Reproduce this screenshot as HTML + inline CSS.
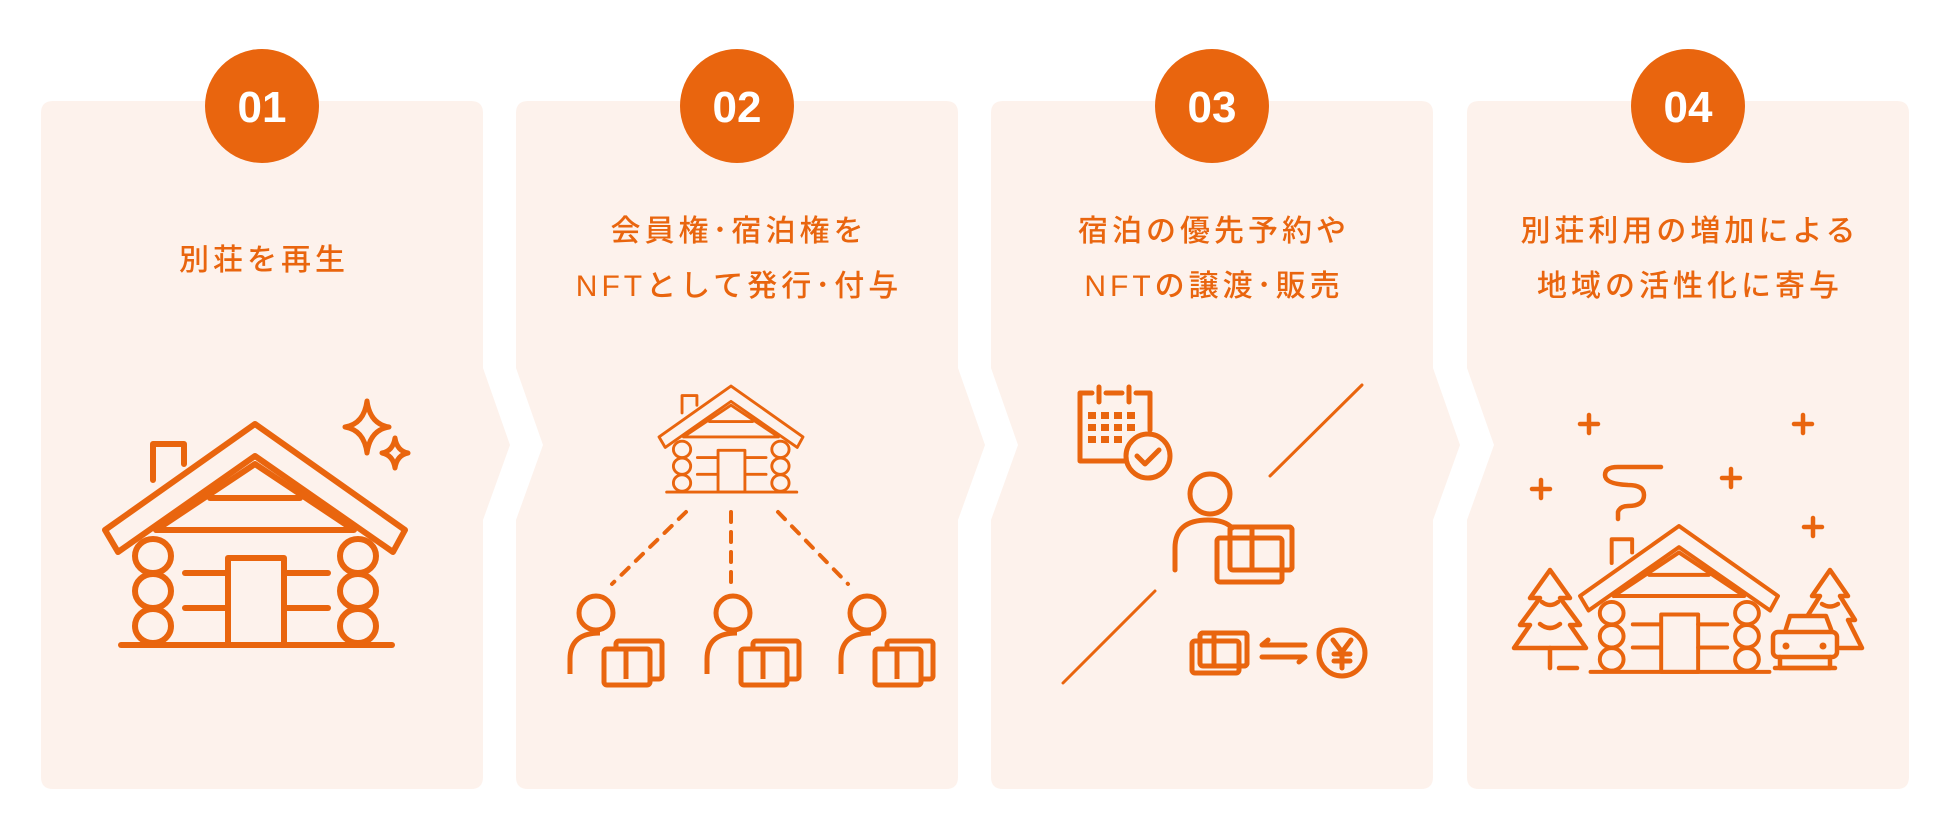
<!DOCTYPE html>
<html><head><meta charset="utf-8"><style>
html,body{margin:0;padding:0;background:#fff;}
svg{display:block;}
text{font-family:"Liberation Sans","Noto Sans CJK JP",sans-serif;}
</style></head><body>
<svg width="1950" height="836" viewBox="0 0 1950 836" xmlns="http://www.w3.org/2000/svg">
<defs>
<g id="house" fill="none" stroke="#E9650E" stroke-width="6" stroke-linejoin="round" stroke-linecap="round">
  <polygon points="105,530 255,424 405,530 393,552 255,456 118,552"/>
  <polyline points="156,530 255,464 354,530 156,530"/>
  <line x1="210" y1="498" x2="300" y2="498"/>
  <polyline points="153,480 153,444 184,444 184,464"/>
  <ellipse cx="153" cy="556" rx="18" ry="17"/>
  <ellipse cx="153" cy="591" rx="18" ry="17"/>
  <ellipse cx="153" cy="626" rx="18" ry="17"/>
  <ellipse cx="358" cy="556" rx="18" ry="17"/>
  <ellipse cx="358" cy="591" rx="18" ry="17"/>
  <ellipse cx="358" cy="626" rx="18" ry="17"/>
  <line x1="185" y1="573" x2="226" y2="573"/><line x1="185" y1="608" x2="226" y2="608"/>
  <line x1="284" y1="573" x2="328" y2="573"/><line x1="284" y1="608" x2="328" y2="608"/>
  <rect x="228" y="558" width="56" height="87"/>
  <line x1="121" y1="645" x2="392" y2="645"/>
</g>
<g id="person" fill="none" stroke="#E9650E" stroke-width="5" stroke-linejoin="round">
  <circle cx="0" cy="0" r="17"/>
  <path d="M-26,61 V46 Q-26,20 4,20"/>
  <rect x="20" y="28" width="46" height="38" rx="3"/>
  <rect x="8" y="36" width="46" height="36" rx="3" fill="#FDF2EC"/>
  <line x1="30" y1="36" x2="30" y2="66"/>
</g>
</defs>
<g fill="#FDF2EC">
<path d="M53,101 H471 Q483,101 483,113 V368 L510,445 L483,520 V777 Q483,789 471,789 H53 Q41,789 41,777 V113 Q41,101 53,101 Z"/>
<path d="M528,101 H946 Q958,101 958,113 V368 L985,445 L958,520 V777 Q958,789 946,789 H528 Q516,789 516,777 V520 L543,445 L516,368 V113 Q516,101 528,101 Z"/>
<path d="M1003,101 H1421 Q1433,101 1433,113 V368 L1460,445 L1433,520 V777 Q1433,789 1421,789 H1003 Q991,789 991,777 V520 L1018,445 L991,368 V113 Q991,101 1003,101 Z"/>
<path d="M1479,101 H1897 Q1909,101 1909,113 V777 Q1909,789 1897,789 H1479 Q1467,789 1467,777 V520 L1494,445 L1467,368 V113 Q1467,101 1479,101 Z"/>
</g>
<g fill="#E9650E">
<circle cx="262" cy="106" r="57"/><circle cx="737" cy="106" r="57"/>
<circle cx="1212" cy="106" r="57"/><circle cx="1688" cy="106" r="57"/>
</g>
<g fill="#fff" font-size="44" font-weight="bold" text-anchor="middle">
<text x="262" y="122">01</text><text x="737" y="122">02</text>
<text x="1212" y="122">03</text><text x="1688" y="122">04</text>
</g>
<g fill="#E9650E" font-size="30" font-weight="500" text-anchor="middle" letter-spacing="4">
<text x="264" y="270">別荘を再生</text>
<text x="739" y="241">会員権･宿泊権を</text>
<text x="739" y="296">NFTとして発行･付与</text>
<text x="1214" y="241">宿泊の優先予約や</text>
<text x="1214" y="296">NFTの譲渡･販売</text>
<text x="1690" y="241">別荘利用の増加による</text>
<text x="1690" y="296">地域の活性化に寄与</text>
</g>
<!-- card1 -->
<use href="#house"/>
<g fill="none" stroke="#E9650E" stroke-width="5" stroke-linejoin="round">
<path d="M367,401 Q370,424 389,427 Q370,430 367,453 Q364,430 345,427 Q364,424 367,401 Z"/>
<path d="M395,438 Q397,451 408,453 Q397,455 395,468 Q393,455 382,453 Q393,451 395,438 Z"/>
</g>
<!-- card2 -->
<g transform="translate(608.6,182.5) scale(0.48)"><use href="#house"/></g>
<g stroke="#E9650E" stroke-width="4" stroke-dasharray="10,10" fill="none" stroke-linecap="round">
<line x1="686" y1="512" x2="612" y2="584"/>
<line x1="731" y1="512" x2="731" y2="584"/>
<line x1="778" y1="512" x2="848" y2="584"/>
</g>
<use href="#person" transform="translate(596,613)"/>
<use href="#person" transform="translate(733,613)"/>
<use href="#person" transform="translate(867,613)"/>
<!-- card3 -->
<g fill="none" stroke="#E9650E" stroke-width="5" stroke-linejoin="round" stroke-linecap="round">
<path d="M1092,393 H1080 V461 H1140"/><path d="M1106,393 H1122"/><path d="M1136,393 H1150 V430"/>
<line x1="1099" y1="387" x2="1099" y2="402"/><line x1="1129" y1="387" x2="1129" y2="402"/>
<circle cx="1148" cy="456" r="22" fill="#FDF2EC"/>
<polyline points="1137,456 1145,464 1159,450"/>
<line x1="1362" y1="385" x2="1270" y2="476" stroke-width="3"/>
<line x1="1155" y1="591" x2="1063" y2="683" stroke-width="3"/>
<circle cx="1210" cy="494" r="20"/>
<path d="M1175,570 V548 Q1175,520 1208,520 Q1225,520 1232,528"/>
<rect x="1230" y="527" width="62" height="43" rx="3"/>
<rect x="1217" y="538" width="65" height="44" rx="3" fill="#FDF2EC"/>
<rect x="1230" y="527" width="62" height="43" rx="3"/>
<line x1="1252" y1="527" x2="1252" y2="570"/>
<rect x="1200" y="633" width="47" height="33" rx="3"/>
<rect x="1192" y="641" width="47" height="32" rx="3" fill="#FDF2EC"/>
<rect x="1200" y="633" width="47" height="33" rx="3"/>
<line x1="1214" y1="633" x2="1214" y2="666"/>
<polyline points="1268,640 1262,645 1305,645"/>
<polyline points="1299,662 1305,657 1262,657"/>
<circle cx="1342" cy="653" r="23"/>
<polyline points="1333,640 1342,652 1351,640"/><line x1="1342" y1="652" x2="1342" y2="668"/>
<line x1="1334" y1="654" x2="1350" y2="654"/><line x1="1334" y1="661" x2="1350" y2="661"/>
</g>
<g fill="#E9650E">
<rect x="1088" y="412" width="8" height="7"/><rect x="1101" y="412" width="8" height="7"/><rect x="1114" y="412" width="8" height="7"/><rect x="1127" y="412" width="8" height="7"/>
<rect x="1088" y="424" width="8" height="7"/><rect x="1101" y="424" width="8" height="7"/><rect x="1114" y="424" width="8" height="7"/><rect x="1127" y="424" width="8" height="7"/>
<rect x="1088" y="436" width="8" height="7"/><rect x="1101" y="436" width="8" height="7"/><rect x="1114" y="436" width="8" height="7"/>
</g>
<!-- card4 -->
<g transform="translate(1510.7,246.2) scale(0.66)"><use href="#house"/></g>
<g fill="none" stroke="#E9650E" stroke-width="4.5" stroke-linejoin="round" stroke-linecap="round">
<path d="M1589,415 V433 M1580,424 H1598"/>
<path d="M1803,415 V433 M1794,424 H1812"/>
<path d="M1541,480 V498 M1532,489 H1550"/>
<path d="M1731,469 V487 M1722,478 H1740"/>
<path d="M1813,518 V536 M1804,527 H1822"/>
<path d="M1618,519 V512 Q1620,506 1628,506 Q1644,506 1644,495 Q1644,485 1628,485 Q1605,484 1605,475 Q1605,467 1618,467 H1661"/>
<path d="M1550,570 L1530,598 H1540 L1520,625 H1530 L1514,648 H1586 L1570,625 H1580 L1560,598 H1570 Z"/>
<line x1="1550" y1="648" x2="1550" y2="668"/><line x1="1559" y1="668" x2="1577" y2="668"/>
<path d="M1542,602 Q1550,608 1558,602 M1540,624 Q1550,632 1560,624"/>
<path d="M1830,570 L1812,596 H1820 L1808,615 M1830,570 L1848,596 H1840 L1855,620 H1848 L1862,648 H1840"/>
<path d="M1822,604 Q1830,609 1838,604"/>
<path d="M1785,632 L1790,616 H1826 L1832,632"/>
<rect x="1773" y="632" width="64" height="25" rx="5" fill="#FDF2EC"/>
<path d="M1780,657 V668 H1830 V657"/>
<line x1="1775" y1="668" x2="1835" y2="668"/>
</g>
<g fill="#E9650E"><circle cx="1786" cy="646" r="3.5"/><circle cx="1823" cy="646" r="3.5"/></g>
</svg>
</body></html>
